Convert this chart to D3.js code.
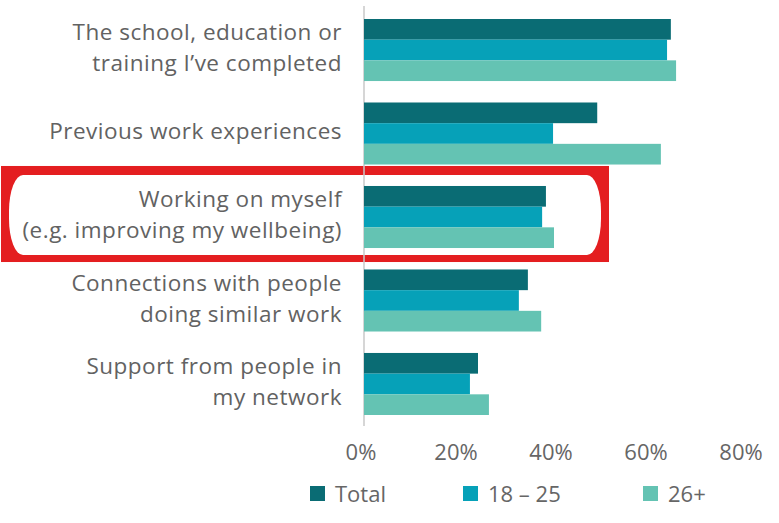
<html>
    <head>
        <meta charset="utf-8">
        <title>Grouped Bars</title>
        <style type="text/css">
            body { margin: 0; background: #fff; }
            text { font-family: "Open Sans", sans-serif; }
        </style>
        <script src="https://d3js.org/d3.v7.min.js"></script>
    </head>
    <body>
    <svg width="779" height="523"></svg>
    <script>
    // data
    var categories = [
        ["The school, education or", "training I\u2019ve completed"],
        ["Previous work experiences"],
        ["Working on myself", "(e.g. improving my wellbeing)"],
        ["Connections with people", "doing similar work"],
        ["Support from people in", "my network"]
    ];
    var seriesNames = ["Total", "18 \u2013 25", "26+"];
    var total   = [64.6, 49.1, 38.3, 34.5, 24.0];
    var age1825 = [63.8, 39.8, 37.5, 32.6, 22.3];
    var age26   = [65.7, 62.5, 40.0, 37.3, 26.3];
    var xTicks  = [0, 20, 40, 60, 80];
    var colors  = ["#0a6c74", "#06a1b8", "#64c3b3"];

    var series = [total, age1825, age26];
    var rows = categories.map((c, i) => ({label: c, values: series.map(s => s[i])}));

    var svg = d3.select("svg");

    var xScale = d3.scaleLinear().domain([0, 80]).range([364, 744]);
    var yScale = d3.scaleBand().domain(d3.range(categories.length))
        .range([19, 415]).paddingInner(0.257).paddingOuter(0);
    var inner = d3.scaleBand().domain(d3.range(seriesNames.length))
        .range([0, yScale.bandwidth()]);

    // highlight box around third category
    var hy = yScale(2);
    svg.append("rect")
        .attr("x", 1).attr("y", hy - 20)
        .attr("width", 608).attr("height", yScale.bandwidth() + 34)
        .attr("fill", "#e41e20");
    svg.append("rect")
        .attr("x", 9).attr("y", hy - 11)
        .attr("width", 592).attr("height", yScale.bandwidth() + 18)
        .attr("rx", 14).attr("ry", 36)
        .attr("fill", "#fff");

    // axis line
    svg.append("line")
        .attr("x1", xScale(0)).attr("x2", xScale(0))
        .attr("y1", 6).attr("y2", 426)
        .attr("stroke", "#c8c8c8").attr("stroke-width", 1.5);

    var g = svg.selectAll(".grp").data(rows).enter().append("g")
        .attr("transform", (d, i) => `translate(0,${yScale(i)})`);

    g.selectAll("rect").data(d => d.values).enter().append("rect")
        .attr("x", xScale(0))
        .attr("y", (d, j) => inner(j))
        .attr("width", d => xScale(d) - xScale(0))
        .attr("height", inner.bandwidth())
        .attr("fill", (d, j) => colors[j]);

    g.each(function(d) {
        var n = d.label.length, lh = 31;
        var cy = yScale.bandwidth() / 2 - 2;
        d3.select(this).selectAll("text").data(d.label).enter().append("text")
            .attr("x", 342)
            .attr("y", (t, k) => cy + (k - (n - 1) / 2) * lh)
            .attr("dy", "0.35em")
            .attr("text-anchor", "end")
            .attr("font-size", 22.5)
            .attr("letter-spacing", 0.5)
            .attr("fill", "#626262")
            .text(t => t);
    });

    // x tick labels
    svg.append("g").selectAll("text").data(xTicks).enter().append("text")
        .attr("x", d => xScale(d) - 3)
        .attr("y", 452)
        .attr("dy", "0.35em")
        .attr("text-anchor", "middle")
        .attr("font-size", 22)
        .attr("fill", "#666")
        .text(d => d + "%");

    // legend
    var legX = [310, 463, 643];
    var leg = svg.append("g").selectAll("g").data(seriesNames).enter().append("g")
        .attr("transform", (d, i) => `translate(${legX[i]},494)`);
    leg.append("rect")
        .attr("x", 0).attr("y", -8)
        .attr("width", 15).attr("height", 15)
        .attr("fill", (d, i) => colors[i]);
    leg.append("text")
        .attr("x", 25).attr("y", 0)
        .attr("dy", "0.35em")
        .attr("font-size", 22)
        .attr("fill", "#666")
        .text(d => d);
    </script>
  </body>
</html>
